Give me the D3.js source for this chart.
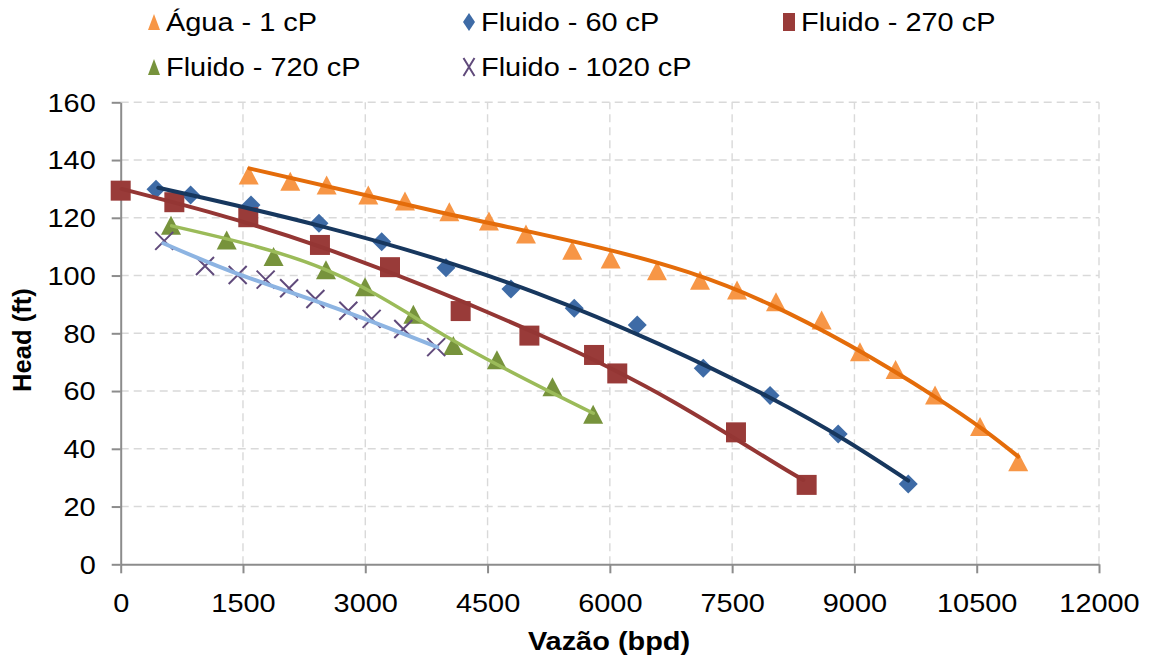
<!DOCTYPE html>
<html>
<head>
<meta charset="utf-8">
<script src="https://cdn.jsdelivr.net/npm/d3@7"></script>
<style>
  body { margin: 0; background: #fff; }
  text { font-family: "Liberation Sans", Arial, sans-serif; fill: #000; }
</style>
</head>
<body>
<svg id="chart" width="1150" height="659"></svg>
<script>
// curva de head x vazão — pontos medidos e linhas de tendência
const xTicks = [0, 1500, 3000, 4500, 6000, 7500, 9000, 10500, 12000];
const yTicks = [0, 20, 40, 60, 80, 100, 120, 140, 160];

// [vazão (bpd), head (ft)]
const agua1 = [[1570,134.8],[2080,132.7],[2526,131.4],[3037,127.9],[3487,125.8],[4031,122.1],[4517,118.9],[4971,114.4],[5539,108.8],[6010,105.7],[6578,101.7],[7106,98.4],[7560,95],[8038,90.9],[8598,84.6],[9068,73.6],[9505,67.5],[9989,58.6],[10541,47.7],[11009,35.5]];
const fluido60 = [[433,129.9],[858,127.9],[1598,124.4],[2432,118.1],[3201,111.7],[3990,102.7],[4787,95.3],[5563,88.7],[6336,82.9],[7146,67.9],[7965,58.5],[8801,45.1],[9660,27.8]];
const fluido270 = [[0,129.4],[658,125.4],[1565,120.2],[2444,110.6],[3303,102.9],[4170,87.7],[5013,79.2],[5806,72.5],[6091,66.1],[7547,45.7],[8414,27.5]];
const fluido720 = [[617,117.4],[1300,112.3],[1875,106.6],[2518,102],[2997,96.1],[3590,86.6],[4080,75.8],[4615,70.8],[5296,61.5],[5795,52]];
const fluido1020 = [[534,112],[1034,103.3],[1435,100.2],[1778,98.6],[2066,95.6],[2388,91.9],[2792,87.8],[3078,85],[3466,81.5],[3870,75.2]];

// linhas de tendência
const trendAgua = [[1577,137.1],[3916,121.9],[6001,108.8],[7963,90],[9989,58],[11009,37.3]];
const trend60 = [[461,130.4],[2432,117.3],[5102,93.9],[7943,58],[9660,29]];
const trend270 = [[12,130],[2444,110],[5143,79.4],[6778,56.3],[7963,36.1],[8373,29.2]];
const trend720 = [[625,117.2],[2526,101.9],[4080,77.5],[5797,52.3]];
const trend1020 = [[523,111.2],[1435,100.6],[2637,88.7],[3883,75.2]];

const seriesNames = ["Água - 1 cP", "Fluido - 60 cP", "Fluido - 270 cP", "Fluido - 720 cP", "Fluido - 1020 cP"];

const series = [
  { name: seriesNames[0], pts: agua1, trend: trendAgua, shape: "tri", fill: "#f79646", line: "#e46c0a", lw: 4 },
  { name: seriesNames[1], pts: fluido60, trend: trend60, shape: "dia", fill: "#3e6ba6", line: "#17375e", lw: 4 },
  { name: seriesNames[2], pts: fluido270, trend: trend270, shape: "sq", fill: "#993b39", line: "#943634", lw: 4 },
  { name: seriesNames[3], pts: fluido720, trend: trend720, shape: "tri", fill: "#77933c", line: "#9bbb59", lw: 3.5 },
  { name: seriesNames[4], pts: fluido1020, trend: trend1020, shape: "x", fill: "#604a7b", line: "#8db4e2", lw: 4 }
];

const SX = 1.13; // texto da figura original é levemente esticado na horizontal
const svg = d3.select("#chart");

const x = d3.scaleLinear().domain([0, 12000]).range([120.7, 1099]);
const y = d3.scaleLinear().domain([0, 160]).range([564.3, 102.3]);

function markerPath(shape, w, h) {
  if (shape === "tri") return `M0,${-h/2}L${w/2},${h/2}L${-w/2},${h/2}Z`;
  if (shape === "dia") return `M0,${-h/2}L${w/2},0L0,${h/2}L${-w/2},0Z`;
  if (shape === "sq") return `M${-w/2},${-h/2}H${w/2}V${h/2}H${-w/2}Z`;
  return `M${-w/2},${-h/2}L${w/2},${h/2}M${w/2},${-h/2}L${-w/2},${h/2}`;
}
function drawMarker(g, s, w, h) {
  const p = g.append("path").attr("d", markerPath(s.shape, w, h));
  if (s.shape === "x") p.attr("fill", "none").attr("stroke", s.fill).attr("stroke-width", 2);
  else p.attr("fill", s.fill);
}

// grade
const grid = svg.append("g");
grid.selectAll(".gy").data(yTicks.filter(d => d > 0)).join("line")
  .attr("x1", x(0)).attr("x2", x(12000))
  .attr("y1", d => y(d)).attr("y2", d => y(d))
  .attr("stroke", "#d9d9d9").attr("stroke-width", 1.4).attr("stroke-dasharray", "8,5");
grid.selectAll(".gx").data(xTicks.filter(d => d > 0)).join("line")
  .attr("x1", d => x(d)).attr("x2", d => x(d))
  .attr("y1", y(0)).attr("y2", y(160))
  .attr("stroke", "#d9d9d9").attr("stroke-width", 1.4).attr("stroke-dasharray", "8,5");

// eixos
const yAxis = svg.append("g").attr("transform", `translate(${x(0)},0)`)
  .call(d3.axisLeft(y).tickValues(yTicks).tickFormat(d3.format("d")).tickSize(9).tickSizeOuter(0).tickPadding(0));
const xAxis = svg.append("g").attr("transform", `translate(0,${y(0)})`)
  .call(d3.axisBottom(x).tickValues(xTicks).tickFormat(d3.format("d")).tickSize(9).tickSizeOuter(0).tickPadding(0));
[xAxis, yAxis].forEach(a => {
  a.select(".domain").attr("stroke", "#8c8c8c").attr("stroke-width", 2);
  a.selectAll(".tick line").attr("stroke", "#8c8c8c").attr("stroke-width", 2);
  a.selectAll(".tick text").attr("font-size", 25.6).attr("fill", "#000")
    .attr("font-family", "Liberation Sans, Arial, sans-serif");
});
yAxis.selectAll(".tick text").attr("x", -25 / SX).attr("dy", "0.34em")
  .attr("transform", `scale(${SX},1)`);
xAxis.selectAll(".tick text").attr("y", 0).attr("dy", 0)
  .attr("transform", `translate(0,48) scale(${SX},1)`);

// marcadores
series.forEach(s => {
  const g = svg.append("g");
  s.pts.forEach(p => {
    const m = g.append("g").attr("transform", `translate(${x(p[0])},${y(p[1])})`);
    const size = s.shape === "x" ? 18 : (s.shape === "dia" ? 19 : 20);
    drawMarker(m, s, size, s.shape === "tri" ? 19 : size);
  });
});

// tendências
const line = d3.line().x(d => x(d[0])).y(d => y(d[1])).curve(d3.curveNatural);
series.forEach(s => {
  svg.append("path").datum(s.trend).attr("d", line)
    .attr("fill", "none").attr("stroke", s.line).attr("stroke-width", s.lw)
    .attr("stroke-linecap", "round").attr("stroke-linejoin", "round");
});

// títulos dos eixos
svg.append("g").attr("transform", `translate(609,650) scale(${SX},1)`)
  .append("text").attr("text-anchor", "middle").attr("font-size", 25.6)
  .attr("font-weight", "bold").text("Vazão (bpd)");
svg.append("g").attr("transform", `translate(31,340) rotate(-90)`)
  .append("text").attr("text-anchor", "middle").attr("font-size", 25.6)
  .attr("font-weight", "bold").text("Head (ft)");

// legenda
const legendPos = [[154,22],[469,22],[789,22],[154,67],[469,67]];
series.forEach((s, i) => {
  const [lx, ly] = legendPos[i];
  const m = svg.append("g").attr("transform", `translate(${lx},${ly})`);
  const w = s.shape === "x" ? 11 : 12;
  drawMarker(m, s, w, s.shape === "tri" ? 16 : 18);
  svg.append("g").attr("transform", `translate(${lx + 12},${ly + 9}) scale(${SX},1)`)
    .append("text").attr("font-size", 25.6).text(s.name);
});
</script>
</body>
</html>
